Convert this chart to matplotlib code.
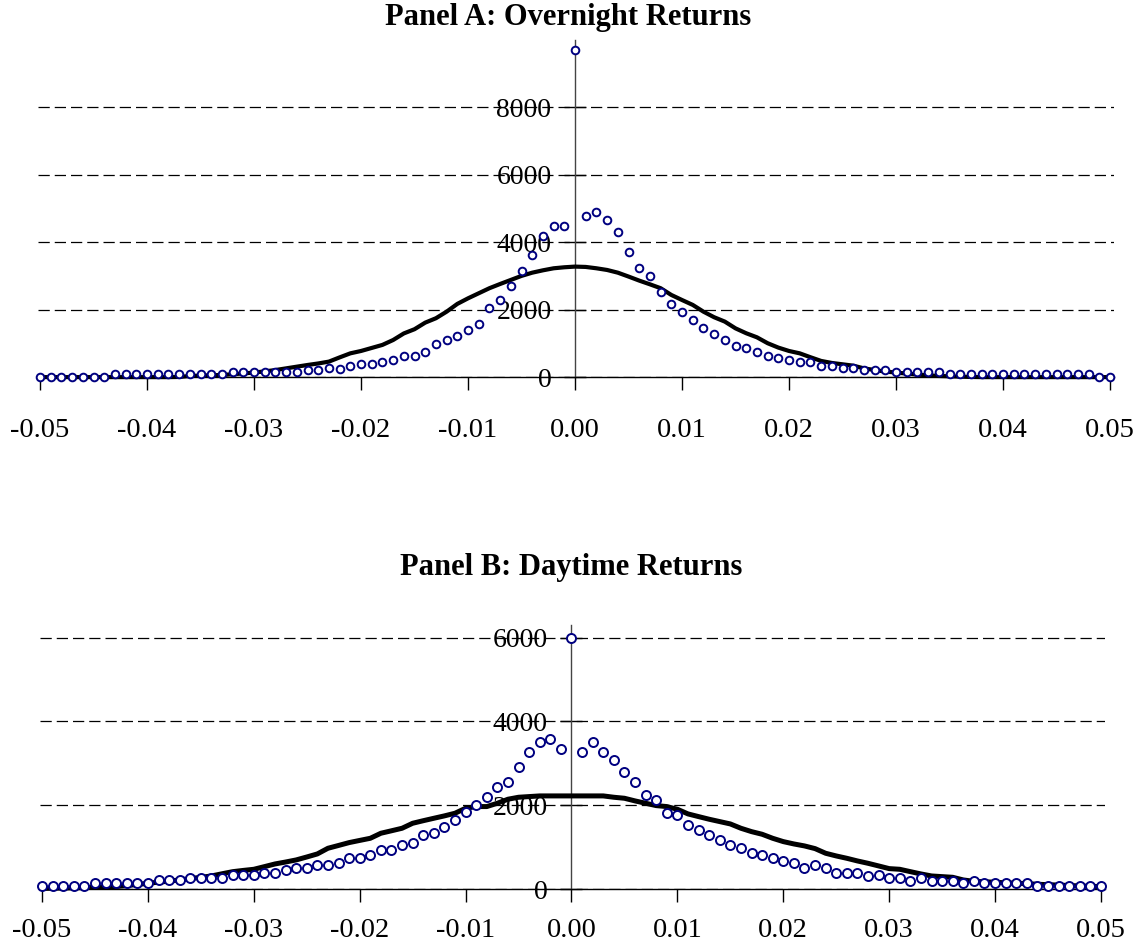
import numpy as np
import matplotlib
matplotlib.use('Agg')
from matplotlib import pyplot as plt

plt.rcParams['font.family'] = ['Liberation Serif', 'DejaVu Serif']

# return grid (-0.05 .. 0.05, step 0.001)
returns = np.round(np.arange(-50, 51) * 0.001, 3)

# Panel A: overnight returns, observed frequency (dots) and normal fit (line)
overnight_obs = [
    20, 20, 20, 20, 20, 20, 20, 90, 90, 90,
    90, 90, 90, 90, 90, 90, 90, 90, 160, 160,
    160, 160, 160, 160, 160, 220, 220, 280, 260, 330,
    385, 385, 445, 515, 620, 620, 750, 980, 1110, 1215,
    1390, 1580, 2045, 2290, 2705, 3160, 3635, 4180, 4475, 4475,
    9690,
    4770, 4890, 4655, 4300, 3705, 3230, 2995, 2520, 2165, 1925,
    1690, 1450, 1275, 1095, 920, 860, 740, 620, 565, 505,
    445, 445, 325, 325, 265, 265, 205, 205, 205, 150,
    150, 150, 150, 150, 90, 90, 90, 90, 90, 90,
    90, 90, 90, 90, 90, 90, 90, 90, 20, 20,
]
overnight_fit = [
    5, 5, 5, 5, 5, 5, 5, 5, 5, 5,
    5, 5, 5, 10, 40, 50, 60, 70, 90, 115,
    140, 175, 215, 265, 315, 365, 410, 465, 590, 710,
    780, 870, 960, 1105, 1300, 1425, 1620, 1750, 1945, 2175,
    2340, 2490, 2640, 2765, 2885, 3005, 3100, 3170, 3230, 3260,
    3280,
    3270, 3230, 3180, 3100, 2985, 2865, 2755, 2640, 2440, 2290,
    2145, 1945, 1780, 1650, 1450, 1305, 1185, 1010, 880, 780,
    710, 595, 485, 425, 385, 345, 265, 215, 170, 140,
    110, 80, 60, 40, 30, 20, 10, 5, 5, 5,
    5, 5, 5, 5, 5, 5, 5, 5, 5, 5,
]

# Panel B: daytime returns
daytime_obs = [
    87, 87, 87, 87, 87, 151, 151, 151, 151, 151,
    151, 215, 215, 215, 278, 278, 278, 278, 334, 334,
    334, 390, 390, 453, 517, 517, 580, 580, 636, 755,
    755, 819, 930, 930, 1065, 1113, 1296, 1352, 1487, 1654,
    1836, 2011, 2202, 2433, 2560, 2918, 3283, 3522, 3578, 3339,
    5980,
    3283, 3522, 3283, 3093, 2798, 2560, 2250, 2139, 1829, 1773,
    1526, 1407, 1296, 1169, 1049, 986, 875, 819, 747, 684,
    628, 501, 572, 501, 382, 382, 382, 318, 334, 262,
    262, 207, 262, 207, 207, 207, 143, 207, 143, 143,
    143, 143, 143, 87, 87, 87, 87, 87, 87, 87,
]
daytime_fit = [
    20, 25, 30, 35, 40, 50, 58, 65, 90, 115,
    143, 170, 195, 223, 255, 285, 318, 370, 420, 450,
    477, 540, 604, 650, 700, 770, 843, 978, 1045, 1113,
    1165, 1216, 1336, 1395, 1455, 1574, 1635, 1693, 1750, 1813,
    1932, 1972, 1972, 2051, 2147, 2194, 2210, 2226, 2226, 2226,
    2226,
    2226, 2226, 2226, 2194, 2170, 2107, 2051, 1995, 1972, 1908,
    1797, 1733, 1670, 1614, 1558, 1455, 1375, 1312, 1216, 1137,
    1081, 1034, 970, 859, 795, 739, 676, 620, 557, 493,
    477, 421, 366, 318, 302, 286, 223, 190, 180, 167,
    155, 145, 135, 120, 110, 100, 90, 80, 70, 64,
]

xticks = [-0.05, -0.04, -0.03, -0.02, -0.01, 0.0, 0.01, 0.02, 0.03, 0.04, 0.05]
yticks_a = [0, 2000, 4000, 6000, 8000]
yticks_b = [0, 2000, 4000, 6000]

W, H = 1143, 943
fig = plt.figure(figsize=(W / 100, H / 100), dpi=100)


def panel(rect, obs, fit, yticks, ytop, title, title_xy, lw, ms, xpad):
    ax = fig.add_axes(rect)
    ax.plot(returns, fit, color='black', lw=lw, zorder=3, clip_on=False)
    ax.plot(returns, obs, 'o', ms=ms, mfc='white', mec='#000080', mew=1.4,
            zorder=4, clip_on=False)
    ax.set_xlim(-0.0502, 0.0504)
    ax.set_ylim(0, ytop)
    ax.set_xticks(xticks)
    ax.set_xticklabels(['%.2f' % t for t in xticks])
    ax.set_yticks(yticks)
    ax.set_yticklabels([str(t) for t in yticks])
    for s in ['top', 'right']:
        ax.spines[s].set_visible(False)
    ax.spines['left'].set_position(('data', 0))
    ax.spines['left'].set_color('#444444')
    ax.spines['left'].set_linewidth(1.0)
    ax.spines['bottom'].set_linewidth(1.0)
    ax.tick_params(axis='x', direction='out', length=9, width=1, labelsize=20.5, pad=xpad)
    ax.tick_params(axis='y', direction='inout', length=16, width=1, labelsize=20, pad=9)
    ax.yaxis.grid(True, color='black', lw=0.9, dashes=(9, 4))
    ax.set_axisbelow(True)
    ax.patch.set_alpha(0)
    fig.text(title_xy[0] / W, 1 - title_xy[1] / H, title, ha='center', va='center',
             fontsize=22, fontweight='bold')
    return ax


# px -> figure coords
a_bottom, a_top = 377.3, 39.8
b_bottom, b_top = 889.3, 625.0
panel([37.9 / W, 1 - a_bottom / H, (1114.3 - 37.9) / W, (a_bottom - a_top) / H],
      overnight_obs, overnight_fit, yticks_a, 10000,
      'Panel A: Overnight Returns', (568, 17), 3.0, 5.5, 20)
panel([39.9 / W, 1 - b_bottom / H, (1105.2 - 39.9) / W, (b_bottom - b_top) / H],
      daytime_obs, daytime_fit, yticks_b, 6300,
      'Panel B: Daytime Returns', (571, 567), 3.6, 6.5, 12)

fig.savefig('out.png', dpi=100)
